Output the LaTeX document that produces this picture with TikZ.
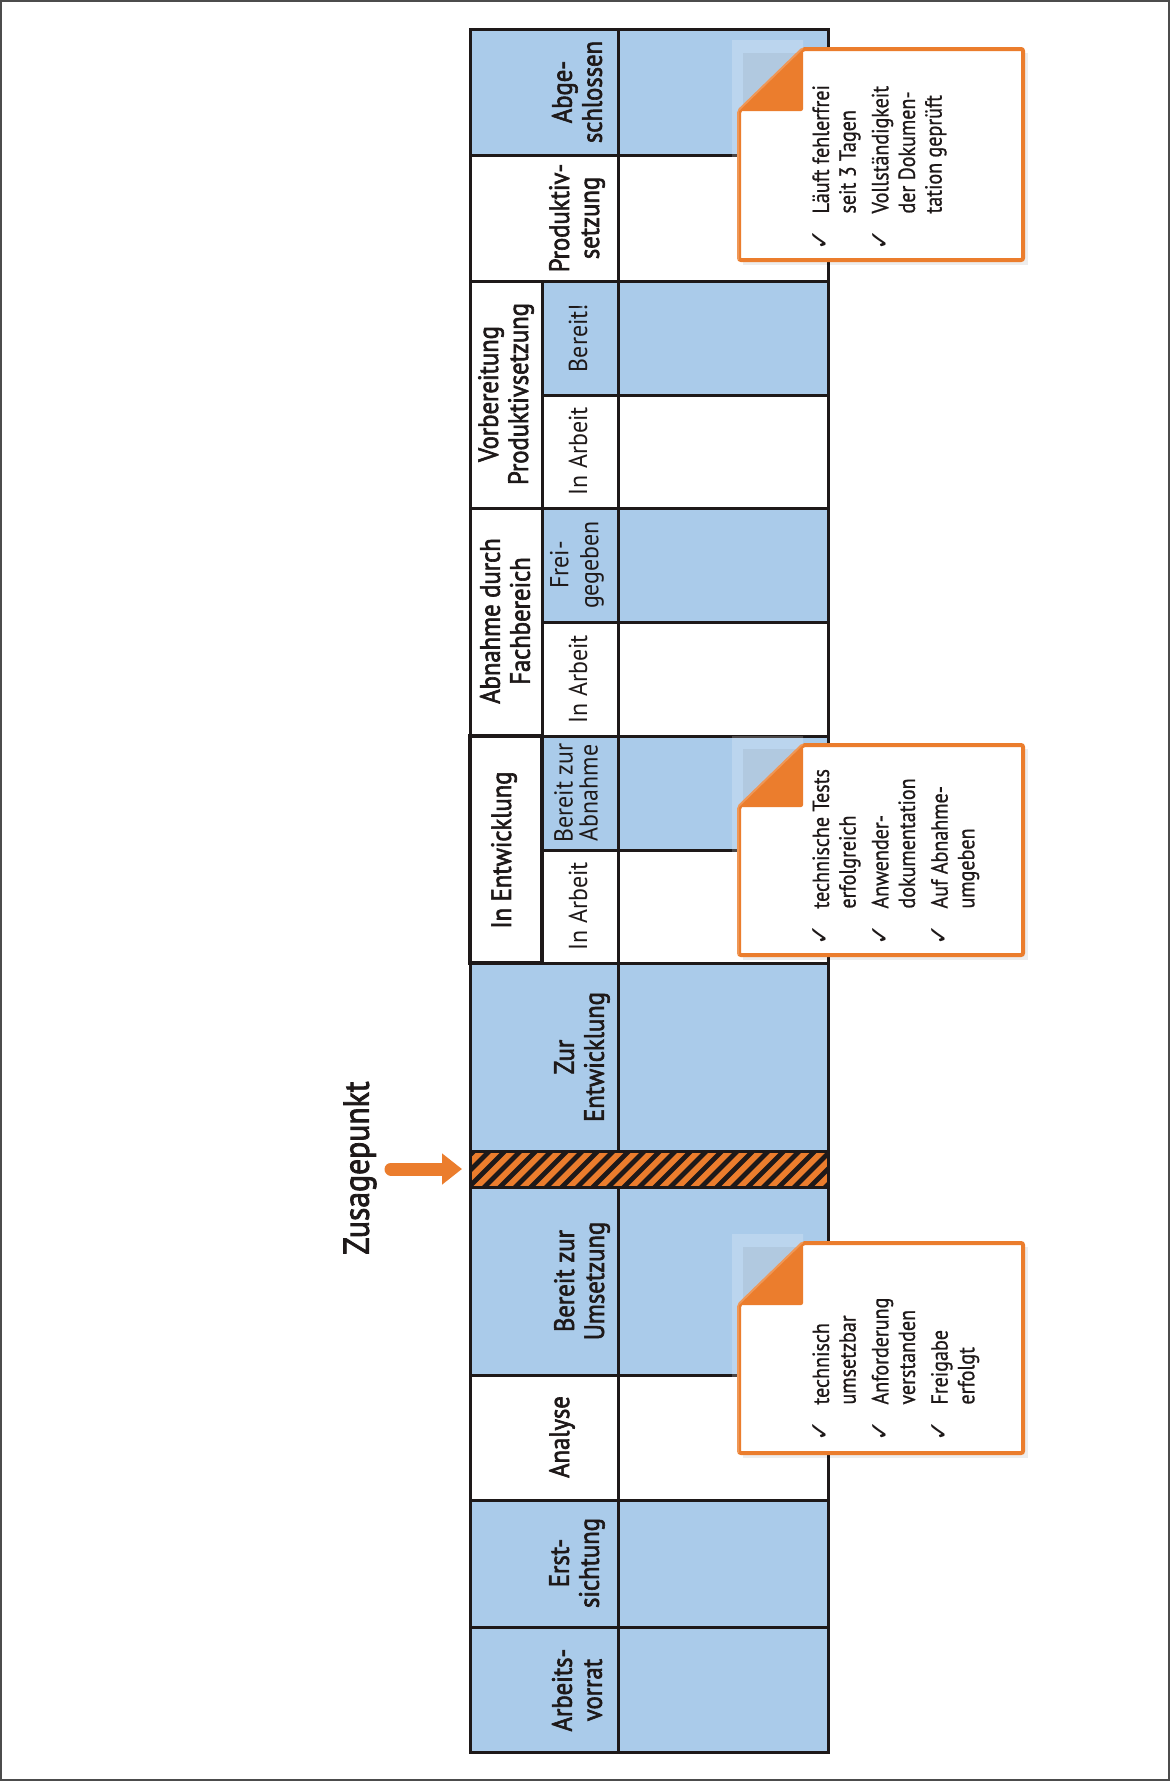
\documentclass[tikz,border=0pt]{standalone}
\usepackage{fontspec}
\setmainfont{PT Sans}
\newfontfamily\hdfont[FakeBold=2.2, FakeStretch=0.88]{PT Sans}
\newfontfamily\sbfont[FakeStretch=0.92]{PT Sans}
\newfontfamily\ntfont[FakeBold=0.8, FakeStretch=0.86]{PT Sans}
\newfontfamily\ckfont{DejaVu Sans}
\usetikzlibrary{arrows.meta}
\definecolor{kblue}{RGB}{170,203,234}
\definecolor{korange}{RGB}{235,125,45}
\definecolor{kline}{RGB}{30,25,25}
\newcommand\kcell[6]{\node[#6, minimum width={(#4-#2)*0.75pt}, minimum height={(#5-#3)*0.75pt}] (#1) at ({(#2+#4)/2},{(#3+#5)/2}) {};}
\newcommand\cmark{{\ckfont\fontsize{19pt}{20pt}\selectfont ✓}}
\newcommand\knote[2]{%
  \fill[black, opacity=0.07] (743,#1+4) rectangle (1028,#2+5);
  \filldraw[korange, fill=white, line width=3pt, rounded corners=1.5pt] (803,#1) -- (1023,#1) -- (1023,#2) -- (739,#2) -- (739,#1+62) -- cycle;
  \fill[korange, rounded corners=1.5pt] (739,#1+62) -- (803,#1) -- (803,#1+62) -- cycle;
  \fill[white, opacity=0.2] (732,#1-9) -- (803,#1-9) -- (803,#1) -- (739,#1+62) -- (739,#2) -- (732,#2) -- cycle;
}
\tikzset{
  cellbox/.style={draw=kline, line width=2.25pt, inner sep=0pt, outer sep=0pt},
  bluec/.style={cellbox, fill=kblue},
  whitec/.style={cellbox, fill=white},
  hdlabel/.style={rotate=90, font=\hdfont\fontsize{21pt}{22.5pt}\selectfont, align=center, inner sep=0pt, text=kline},
  sublabel/.style={rotate=90, font=\sbfont\fontsize{19.5pt}{22.5pt}\selectfont, align=center, inner sep=0pt, text=kline},
  notetext/.style={rotate=90, font=\ntfont\fontsize{17.5pt}{20pt}\selectfont, align=left, inner sep=0pt, anchor=north west, text=kline},
}
\begin{document}
\begin{tikzpicture}[x=0.75pt, y=-0.75pt]
\useasboundingbox (0,0) rectangle (1170,1781);
\fill[white] (0,0) rectangle (1170,1781);
\draw[black!70, line width=1.2pt] (0.8,0.8) rectangle (1169.2,1780.2);

% board cells
\kcell{abgH}{470}{29}{618}{155}{bluec}
\kcell{abgC}{618}{29}{828}{155}{bluec}
\kcell{proH}{470}{155}{618}{281}{whitec}
\kcell{proC}{618}{155}{828}{281}{whitec}
\kcell{vorG}{470}{281}{542}{508}{whitec}
\kcell{vorB}{542}{281}{618}{395}{bluec}
\kcell{vorBC}{618}{281}{828}{395}{bluec}
\kcell{vorA}{542}{395}{618}{508}{whitec}
\kcell{vorAC}{618}{395}{828}{508}{whitec}
\kcell{abnG}{470}{508}{542}{736}{whitec}
\kcell{abnF}{542}{508}{618}{622}{bluec}
\kcell{abnFC}{618}{508}{828}{622}{bluec}
\kcell{abnA}{542}{622}{618}{736}{whitec}
\kcell{abnAC}{618}{622}{828}{736}{whitec}
\kcell{entG}{470}{736}{542}{963}{whitec}
\kcell{entB}{542}{736}{618}{850}{bluec}
\kcell{entBC}{618}{736}{828}{850}{bluec}
\kcell{entA}{542}{850}{618}{963}{whitec}
\kcell{entAC}{618}{850}{828}{963}{whitec}
\kcell{zurH}{470}{963}{618}{1151}{bluec}
\kcell{zurC}{618}{963}{828}{1151}{bluec}
\kcell{berH}{470}{1187}{618}{1375}{bluec}
\kcell{berC}{618}{1187}{828}{1375}{bluec}
\kcell{anaH}{470}{1375}{618}{1500}{whitec}
\kcell{anaC}{618}{1375}{828}{1500}{whitec}
\kcell{ersH}{470}{1500}{618}{1627}{bluec}
\kcell{ersC}{618}{1500}{828}{1627}{bluec}
\kcell{arbH}{470}{1627}{618}{1752}{bluec}
\kcell{arbC}{618}{1627}{828}{1752}{bluec}
\draw[kline, line width=3pt] (entG.north west) rectangle (entG.south east);

% hatched commitment bar
\node[inner sep=0pt, outer sep=0pt, fill=korange, minimum width={358*0.75pt}, minimum height={36*0.75pt}] (bar) at (649,1169) {};
\begin{scope}
  \clip (bar.south west) rectangle (bar.north east);
  \foreach \s in {0,...,27} \draw[kline, line width=3.6pt] ({430+\s*15.5},1195) -- ({430+\s*15.5+52},1143);
\end{scope}
\draw[kline, line width=2.25pt] (bar.south west) rectangle (bar.north east);

% labels
\node[hdlabel] (tAbg) at (577,92) {Abge-\\schlossen};
\node[hdlabel] (tPro) at (577,218) {Produktiv-\\setzung};
\node[hdlabel] (tVor) at (506,394) {Vorbereitung\\Produktivsetzung};
\node[sublabel] (tVorB) at (578,338) {Bereit!};
\node[sublabel] (tVorA) at (578,451) {In Arbeit};
\node[hdlabel] (tAbn) at (505,621) {Abnahme durch\\Fachbereich};
\node[sublabel] (tAbnF) at (577,565) {Frei-\\gegeben};
\node[sublabel] (tAbnA) at (578,679) {In Arbeit};
\node[hdlabel] (tEnt) at (504,850) {In Entwicklung};
\node[sublabel, font=\sbfont\fontsize{19.5pt}{18.75pt}\selectfont] (tEntB) at (576,793) {Bereit zur\\Abnahme};
\node[sublabel] (tEntA) at (578,906) {In Arbeit};
\node[hdlabel] (tZur) at (582,1057) {Zur\\Entwicklung};
\node[hdlabel] (tBer) at (582,1281) {Bereit zur\\Umsetzung};
\node[hdlabel] (tAna) at (562,1437) {Analyse};
\node[hdlabel] (tErs) at (577,1563) {Erst-\\sichtung};
\node[hdlabel] (tArb) at (577,1690) {Arbeits-\\vorrat};

% Zusagepunkt
\node[rotate=90, font=\hdfont\fontsize{27pt}{30pt}\selectfont, inner sep=0pt, text=kline] (zusage) at (360,1168) {Zusagepunkt};
\coordinate (arrS) at (391,1169);
\draw[korange, line width=9.75pt, line cap=round, -{Triangle[length=15pt,width=22.5pt]}, shorten >=6pt] (arrS) -- (bar.west);

% notes
\knote{49}{260}
\node[notetext] (n1) at (810,251) {\begin{tabular}{@{}l@{\hspace{12pt}}l@{}}
\cmark & Läuft fehlerfrei\\ & seit 3 Tagen\\[4.5pt]
\cmark & Vollständigkeit\\ & der Dokumen-\\ & tation geprüft\end{tabular}};
\knote{745}{955}
\node[notetext] (n2) at (810,946) {\begin{tabular}{@{}l@{\hspace{12pt}}l@{}}
\cmark & technische Tests\\ & erfolgreich\\[4.5pt]
\cmark & Anwender-\\ & dokumentation\\[4.5pt]
\cmark & Auf Abnahme-\\ & umgeben\end{tabular}};
\knote{1243}{1453}
\node[notetext] (n3) at (810,1442) {\begin{tabular}{@{}l@{\hspace{12pt}}l@{}}
\cmark & technisch\\ & umsetzbar\\[4.5pt]
\cmark & Anforderung\\ & verstanden\\[4.5pt]
\cmark & Freigabe\\ & erfolgt\end{tabular}};
\end{tikzpicture}
\end{document}
